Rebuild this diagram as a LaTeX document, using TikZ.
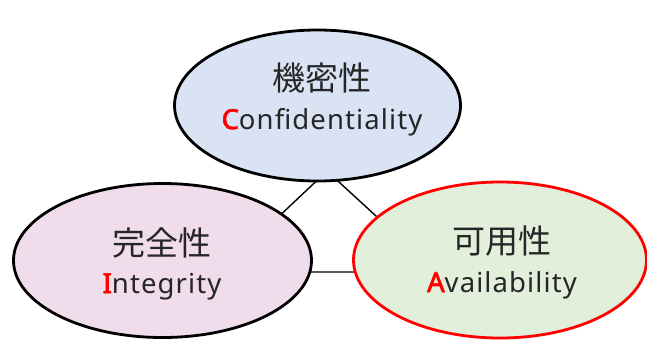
\documentclass[tikz,border=0pt]{standalone}
\usepackage{fontspec}
\setmainfont[LetterSpace=4]{Noto Sans}
\newfontfamily\redfont[LetterSpace=4,FakeBold=2.5]{Noto Sans}
\newfontfamily\jpfont{Noto Sans CJK JP}
\usetikzlibrary{shapes.geometric}
\definecolor{cfill}{HTML}{DAE3F3}
\definecolor{ifill}{HTML}{F0DCEB}
\definecolor{afill}{HTML}{E2EFDA}
\definecolor{txt}{HTML}{262626}
\definecolor{redc}{HTML}{FF0000}
\newcommand{\redini}[1]{{\redfont\color{redc}#1}}
\begin{document}
\begin{tikzpicture}[x=1pt,y=-1pt,
  oval/.style={ellipse, draw=black, line width=2.8pt, inner sep=0pt},
  jp/.style={font=\jpfont\fontsize{33}{38}\selectfont, text=txt, anchor=center, inner sep=0pt},
  en/.style={font=\fontsize{27.5}{32}\selectfont, text=txt, anchor=base, inner sep=0pt},
  link/.style={draw=black, line width=1.4pt}]
\useasboundingbox (0,0) rectangle (647,341);
\coordinate (tA) at (327,171);
\coordinate (tL) at (220,272);
\coordinate (tR) at (437,272);
\draw[link] (tA) -- (tL) -- (tR) -- cycle;
\node[oval, fill=cfill, minimum width=286pt, minimum height=151pt] (conf) at (317.5,105.5) {};
\node[oval, fill=ifill, minimum width=298pt, minimum height=154pt] (integ) at (162.5,260.5) {};
\node[oval, draw=redc, fill=afill, minimum width=293pt, minimum height=156pt] (avail) at (500,260) {};
\node[jp] (confjp) at (322,78) {機密性};
\node[en] (confen) at (322,129) {\redini{C}onfidentiality};
\node[jp] (integjp) at (162,243) {完全性};
\node[en] (integen) at (162,293) {\redini{I}ntegrity};
\node[jp] (availjp) at (502,241) {可用性};
\node[en] (availen) at (502,292) {\redini{A}vailability};
\end{tikzpicture}
\end{document}
